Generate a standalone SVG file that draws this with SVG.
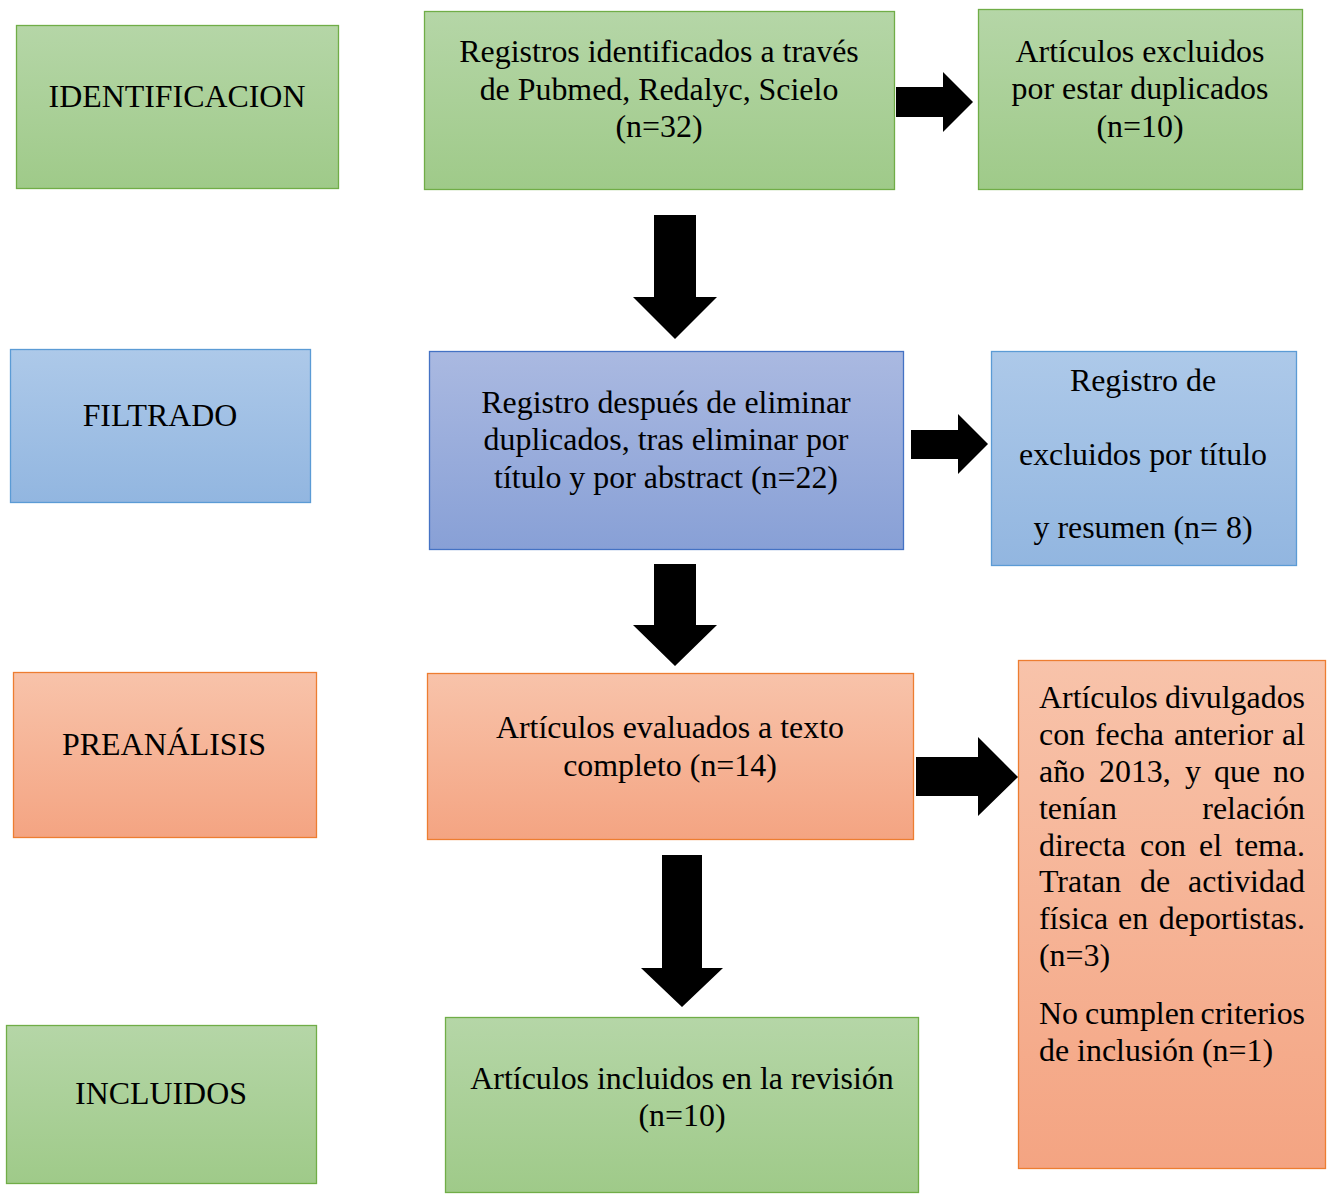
<svg xmlns="http://www.w3.org/2000/svg" width="1328" height="1194" viewBox="0 0 1328 1194">
<style>
text{font-family:"Liberation Serif","Times New Roman",serif;font-size:31.9px;fill:#000}
.c{text-anchor:middle}
.g{fill:url(#gg);stroke:#70ad47;stroke-width:1.3}
.b{fill:url(#gb);stroke:#5b9bd5;stroke-width:1.3}
.p{fill:url(#gp);stroke:#4472c4;stroke-width:1.3}
.o{fill:url(#go);stroke:#ed7d31;stroke-width:1.3}
.arr{fill:#000}
</style>
<defs>
<linearGradient id="gg" x1="0" y1="0" x2="0" y2="1"><stop offset="0" stop-color="#b5d6a7"/><stop offset="1" stop-color="#9fca89"/></linearGradient>
<linearGradient id="gb" x1="0" y1="0" x2="0" y2="1"><stop offset="0" stop-color="#adc9e9"/><stop offset="1" stop-color="#92b6e0"/></linearGradient>
<linearGradient id="gp" x1="0" y1="0" x2="0" y2="1"><stop offset="0" stop-color="#aab9e1"/><stop offset="1" stop-color="#88a0d6"/></linearGradient>
<linearGradient id="go" x1="0" y1="0" x2="0" y2="1"><stop offset="0" stop-color="#f8c3aa"/><stop offset="1" stop-color="#f4a482"/></linearGradient>
</defs>
<rect width="1328" height="1194" fill="#fff"/>

<g id="identificacion"><rect class="g" x="16.5" y="25.5" width="322" height="163"/><text class="c" x="177" y="107">IDENTIFICACION</text></g>
<g id="registros"><rect class="g" x="424.5" y="11.5" width="470" height="178"/><text class="c"><tspan x="659" y="62">Registros identificados a través</tspan><tspan x="659" y="100">de Pubmed, Redalyc, Scielo</tspan><tspan x="659" y="137">(n=32)</tspan></text></g>
<g id="excluidos-dup"><rect class="g" x="978.5" y="9.5" width="324" height="180"/><text class="c"><tspan x="1140" y="62">Artículos excluidos</tspan><tspan x="1140" y="99">por estar duplicados</tspan><tspan x="1140" y="137">(n=10)</tspan></text></g>

<g id="filtrado"><rect class="b" x="10.5" y="349.5" width="300" height="153"/><text class="c" x="160" y="426">FILTRADO</text></g>
<g id="registro-despues"><rect class="p" x="429.5" y="351.5" width="474" height="198"/><text class="c"><tspan x="666" y="413">Registro después de eliminar</tspan><tspan x="666" y="450">duplicados, tras eliminar por</tspan><tspan x="666" y="488">título y por abstract (n=22)</tspan></text></g>
<g id="excluidos-titulo"><rect class="b" x="991.5" y="351.5" width="305" height="214"/><text class="c"><tspan x="1143" y="391">Registro de</tspan><tspan x="1143" y="465">excluidos por título</tspan><tspan x="1143" y="538">y resumen (n= 8)</tspan></text></g>

<g id="preanalisis"><rect class="o" x="13.5" y="672.5" width="303" height="165"/><text class="c" x="164" y="755">PREANÁLISIS</text></g>
<g id="evaluados"><rect class="o" x="427.5" y="673.5" width="486" height="166"/><text class="c"><tspan x="670" y="738">Artículos evaluados a texto</tspan><tspan x="670" y="776">completo (n=14)</tspan></text></g>
<g id="divulgados"><rect class="o" x="1018.5" y="660.5" width="307" height="508"/>
<text y="708"><tspan x="1039">Artículos</tspan><tspan x="1305" text-anchor="end">divulgados</tspan></text>
<text y="745"><tspan x="1039">con</tspan><tspan x="1095">fecha</tspan><tspan x="1174">anterior</tspan><tspan x="1305" text-anchor="end">al</tspan></text>
<text y="782"><tspan x="1039">año</tspan><tspan x="1099">2013,</tspan><tspan x="1185">y</tspan><tspan x="1214">que</tspan><tspan x="1305" text-anchor="end">no</tspan></text>
<text y="819"><tspan x="1039">tenían</tspan><tspan x="1305" text-anchor="end">relación</tspan></text>
<text y="856"><tspan x="1039">directa</tspan><tspan x="1140">con</tspan><tspan x="1199">el</tspan><tspan x="1305" text-anchor="end">tema.</tspan></text>
<text y="892"><tspan x="1039">Tratan</tspan><tspan x="1140">de</tspan><tspan x="1305" text-anchor="end">actividad</tspan></text>
<text y="929"><tspan x="1039">física</tspan><tspan x="1118">en</tspan><tspan x="1305" text-anchor="end">deportistas.</tspan></text>
<text x="1039" y="966">(n=3)</text>
<text y="1024"><tspan x="1039">No</tspan><tspan x="1085">cumplen</tspan><tspan x="1305" text-anchor="end">criterios</tspan></text>
<text x="1039" y="1061">de inclusión (n=1)</text>
</g>

<g id="incluidos"><rect class="g" x="6.5" y="1025.5" width="310" height="158"/><text class="c" x="161" y="1104">INCLUIDOS</text></g>
<g id="incluidos-revision"><rect class="g" x="445.5" y="1017.5" width="473" height="175"/><text class="c"><tspan x="682" y="1089">Artículos incluidos en la revisión</tspan><tspan x="682" y="1126">(n=10)</tspan></text></g>

<g id="connectors">
<polygon class="arr" points="896,87 943,87 943,72 973,102 943,132 943,117 896,117"/>
<polygon class="arr" points="654,215 696,215 696,297 717,297 675,339 633,297 654,297"/>
<polygon class="arr" points="911,430 958,430 958,414 988,444 958,474 958,459 911,459"/>
<polygon class="arr" points="654,564 696,564 696,625 717,625 675,666 633,625 654,625"/>
<polygon class="arr" points="916,757 978,757 978,737 1018,777 978,816 978,796 916,796"/>
<polygon class="arr" points="662,855 702,855 702,968 723,968 682,1007 641,968 662,968"/>
</g>
</svg>
